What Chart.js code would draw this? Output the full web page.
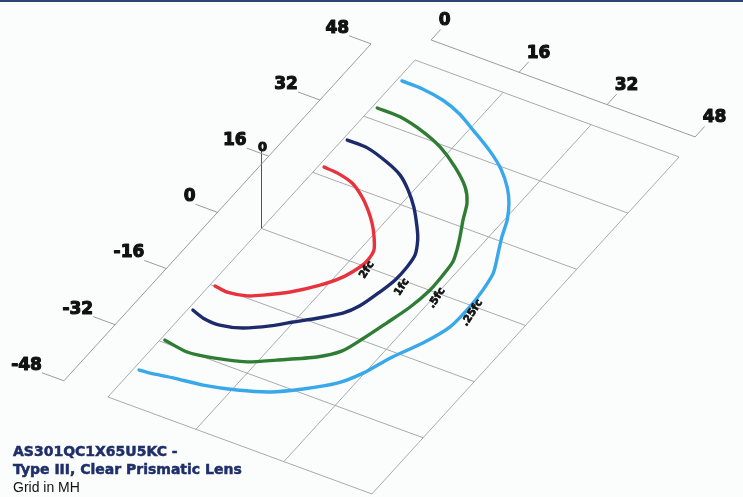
<!DOCTYPE html>
<html><head><meta charset="utf-8">
<script src="https://cdn.jsdelivr.net/npm/chart.js@4.4.1/dist/chart.umd.min.js"></script>
<style>
html,body{margin:0;padding:0;background:#fbfdfd;overflow:hidden;}
#wrap{position:absolute;left:0;top:0;width:743px;height:497px;}
#bar{position:absolute;left:0;top:0;width:743px;height:2px;background:#2b4675;}
.cap{position:absolute;left:13px;white-space:nowrap;}
#c1{top:443px;font:bold 14px "DejaVu Sans";color:#1f2f6a;-webkit-text-stroke:0.5px #1f2f6a;}
#c2{top:461px;font:bold 14px "DejaVu Sans";color:#1f2f6a;-webkit-text-stroke:0.5px #1f2f6a;}
#c3{top:479px;font:14px "Liberation Sans";color:#111;}
</style></head><body>
<div id="wrap"><canvas id="c" width="743" height="497"></canvas></div>
<div id="bar"></div>
<div class="cap" id="c1">AS301QC1X65U5KC -</div>
<div class="cap" id="c2">Type III, Clear Prismatic Lens</div>
<div class="cap" id="c3">Grid in MH</div>
<script>
// ---- data (grid units: mounting heights) ----
const yTicks = [48, 32, 16, 0, -16, -32, -48];
const xTicks = [0, 16, 32, 48];
const contourNames = ['2fc', '1fc', '.5fc', '.25fc'];
const fc2 = [[0.9,18.0],[3.4,17.8],[6.7,16.8],[9.8,14.6],[12.2,12.3],[14.4,9.8],[16.4,7.0],[18.0,4.2],[18.4,1.6],[18.2,-0.5],[17.1,-4.0],[15.0,-7.5],[11.8,-11.3],[8.5,-14.1],[6.4,-15.5],[3.2,-16.3],[0.8,-15.9]];
const fc1 = [[0.7,25.6],[4.4,25.5],[8.8,24.0],[12.2,22.3],[15.2,19.7],[18.1,16.5],[21.0,12.5],[22.7,9.8],[24.2,6.4],[24.6,3.2],[24.6,-0.5],[24.0,-4.3],[23.0,-8.8],[21.6,-11.7],[18.7,-14.8],[15.9,-17.5],[13.3,-20.1],[9.8,-22.7],[6.3,-23.9],[3.2,-23.7],[0.8,-22.8]];
const fc05 = [[0.8,34.8],[5.0,34.7],[10.0,33.3],[14.2,31.4],[18.7,28.3],[22.6,24.8],[24.8,21.6],[26.4,17.6],[28.1,13.7],[29.3,10.7],[30.2,7.9],[30.5,4.3],[30.6,0.1],[30.0,-5.1],[28.8,-10.3],[27.5,-15.6],[26.2,-19.8],[23.5,-23.1],[18.4,-26.9],[14.6,-29.6],[9.5,-31.4],[5.2,-32.2],[0.7,-31.4]];
const fc025 = [[0.8,42.5],[4.7,42.4],[8.8,41.6],[12.7,40.0],[16.6,37.6],[21.4,34.5],[25.3,31.4],[28.4,28.0],[30.5,24.9],[32.4,21.1],[33.8,17.0],[35.0,14.0],[37.1,8.7],[37.8,4.2],[38.1,-0.4],[37.9,-6.3],[36.2,-11.8],[33.6,-17.6],[31.8,-22.9],[29.5,-27.1],[25.6,-31.0],[21.5,-34.2],[16.7,-36.4],[11.5,-38.0],[6.5,-38.8],[2.8,-39.6],[0.9,-39.8]];
const labelX = [19.5, 26.4, 32.5, 39.2];
const labelY = [-0.6, -1.5, -1.1, -1.5];

// ---- view / styling ----
const W = 743, H = 497;
const O = {x: 261.5, y: 228.5}, EX = {x: 5.5, y: 2.02}, EY = {x: 3.2, y: -3.51};
function proj(X, Y, Z) { Z = Z || 0; return {x: O.x + X*EX.x + Y*EY.x, y: O.y + X*EX.y + Y*EY.y - Z}; }
const LEFT_AXIS_X = -8, LEFT_TICK_X = -12;
const TOP_AXIS_Y = 53, TOP_TICK_Y = 56, TOP_Z = 2.5;
const POLE_H = 80;
const colors = ['#e8323d', '#1d2b6c', '#2f7d34', '#39a8ea'];
const gridColor = '#a0a0a0', axisColor = '#8e8e8e';

const datasets = [];
[fc2, fc1, fc05, fc025].forEach((arr, i) => {
  datasets.push({label: contourNames[i], data: arr.map(p => proj(p[0], p[1])), borderColor: colors[i],
    borderWidth: 3.4, pointRadius: 0, showLine: true, tension: 0.25, fill: false, order: 0,
    borderCapStyle: 'round', borderJoinStyle: 'round'});
});
function seg(a, b, color, w) {
  datasets.push({data: [a, b], borderColor: color, borderWidth: w, pointRadius: 0, showLine: true, fill: false, order: 10});
}
const yMin = yTicks[yTicks.length - 1], yMax = yTicks[0], xMin = xTicks[0], xMax = xTicks[xTicks.length - 1];
xTicks.forEach(v => seg(proj(v, yMin), proj(v, yMax), gridColor, 0.9));
yTicks.forEach(v => seg(proj(xMin, v), proj(xMax, v), gridColor, 0.9));
seg(proj(LEFT_AXIS_X, yMin), proj(LEFT_AXIS_X, yMax), axisColor, 0.9);
yTicks.forEach(v => seg(proj(LEFT_AXIS_X, v), proj(LEFT_TICK_X, v), axisColor, 0.9));
seg(proj(xMin, TOP_AXIS_Y, TOP_Z), proj(xMax, TOP_AXIS_Y, TOP_Z), axisColor, 0.9);
xTicks.forEach(v => seg(proj(v, TOP_AXIS_Y, TOP_Z), proj(v, TOP_TICK_Y, TOP_Z), axisColor, 0.9));
seg(proj(0, 0, 0), proj(0, 0, POLE_H), '#555', 1);

function heavyText(ctx, s, x, y, sw) {
  ctx.lineWidth = sw; ctx.strokeStyle = ctx.fillStyle; ctx.lineJoin = 'round';
  ctx.strokeText(s, x, y); ctx.fillText(s, x, y);
}
const textPlugin = {
  id: 'texts',
  afterDatasetsDraw(chart) {
    const {ctx, scales: {x, y}} = chart;
    const px = p => ({x: x.getPixelForValue(p.x), y: y.getPixelForValue(p.y)});
    ctx.save();
    ctx.fillStyle = '#111';
    ctx.font = 'bold 17px "DejaVu Sans"';
    ctx.textAlign = 'right'; ctx.textBaseline = 'bottom';
    yTicks.forEach(v => { const p = px(proj(LEFT_TICK_X, v)); heavyText(ctx, String(v), p.x, p.y + 1, 1.1); });
    ctx.textAlign = 'left';
    xTicks.forEach(v => { const p = px(proj(v, TOP_TICK_Y, TOP_Z)); heavyText(ctx, String(v), p.x - 2, p.y, 1.1); });
    // fixture symbol at pole top
    const t = px(proj(0, 0, POLE_H));
    ctx.font = 'bold 13px "DejaVu Sans"'; ctx.textAlign = 'center'; ctx.textBaseline = 'middle';
    heavyText(ctx, '0', t.x + 1, t.y - 1, 1);
    // contour labels
    ctx.font = 'bold 10.5px "DejaVu Sans"';
    contourNames.forEach((n, i) => {
      const p = px(proj(labelX[i], labelY[i]));
      ctx.save(); ctx.translate(p.x, p.y); ctx.rotate(-57 * Math.PI / 180);
      heavyText(ctx, n, 0, 0, 0.7); ctx.restore();
    });
    ctx.restore();
  }
};

new Chart(document.getElementById('c'), {
  type: 'scatter',
  data: {datasets},
  options: {
    responsive: false, animation: false, devicePixelRatio: 1,
    layout: {padding: 0},
    plugins: {legend: {display: false}, tooltip: {enabled: false}, title: {display: false}},
    scales: {
      x: {type: 'linear', min: 0, max: W, display: false},
      y: {type: 'linear', min: 0, max: H, reverse: true, display: false}
    }
  },
  plugins: [textPlugin]
});
</script>
</body></html>
